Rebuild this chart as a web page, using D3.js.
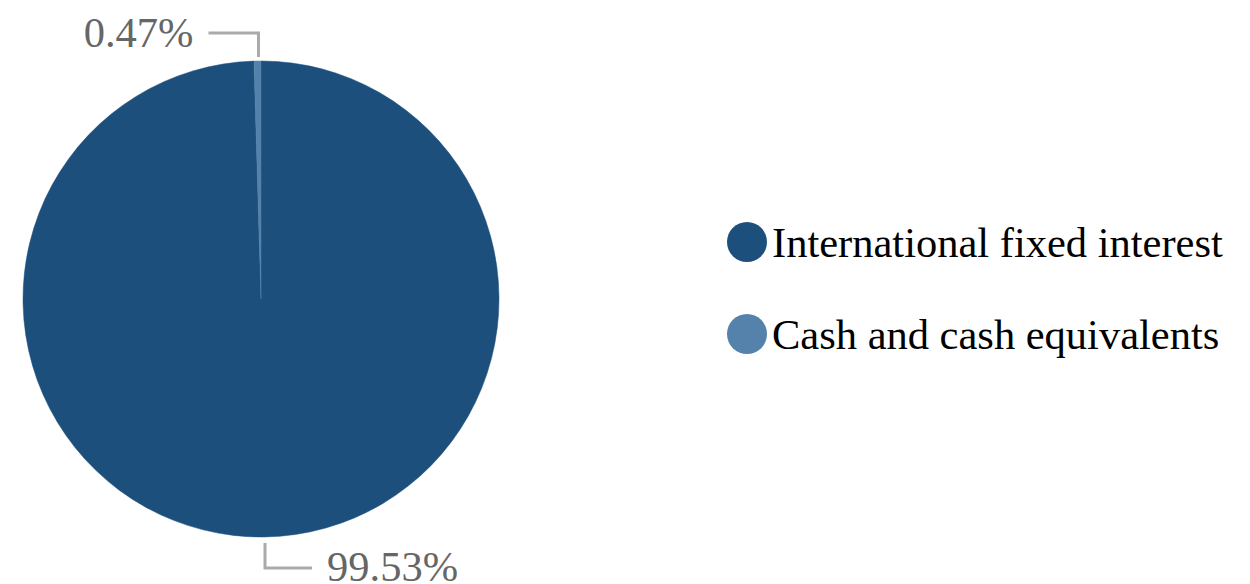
<!DOCTYPE html>
<html>
<head>
<meta charset="utf-8">
<script src="https://cdn.jsdelivr.net/npm/d3@7"></script>
<style>
  body { margin: 0; background: #fff; }
  svg text { font-family: "Liberation Serif", "Times New Roman", serif; }
</style>
</head>
<body>
<div id="chart"></div>
<script>
// data
const categories = ["International fixed interest", "Cash and cash equivalents"];
const values = [99.53, 0.47];
const labels = ["99.53%", "0.47%"];
const colors = ["#1c4f7c", "#5482ab"];

const width = 1250, height = 584;
const cx = 261, cy = 299, radius = 238;

const svg = d3.select("#chart").append("svg")
    .attr("width", width)
    .attr("height", height);

const pie = d3.pie().sort(null).value(d => d.value);
const arc = d3.arc().innerRadius(0).outerRadius(radius);

const data = categories.map((c, i) => ({ name: c, value: values[i], label: labels[i], color: colors[i] }));
const arcs = pie(data);

const g = svg.append("g").attr("transform", `translate(${cx},${cy})`);

g.selectAll("path.slice")
    .data(arcs)
    .enter().append("path")
    .attr("class", "slice")
    .attr("d", arc)
    .attr("fill", d => d.data.color)
    .attr("stroke", d => d.data.color)
    .attr("stroke-width", 0.5);

// leader lines + labels
const lineColor = "#aaaaaa";
const textColor = "#666666";
const fs = 42.5;

// small slice (top)
const small = arcs[1];
const sa = (small.startAngle + small.endAngle) / 2;
const sx = radius * Math.sin(sa) + 1, sy = -radius * Math.cos(sa);
g.append("polyline")
    .attr("points", [[sx, sy - 4], [sx, sy - 28], [sx - 50, sy - 28]].map(p => p.join(",")).join(" "))
    .attr("fill", "none")
    .attr("stroke", lineColor)
    .attr("stroke-width", 3);
g.append("text")
    .attr("x", sx - 65)
    .attr("y", sy - 14)
    .attr("text-anchor", "end")
    .attr("font-size", fs)
    .attr("fill", textColor)
    .text(small.data.label);

// big slice (bottom)
const big = arcs[0];
const bx = 4, by = radius;
g.append("polyline")
    .attr("points", [[bx, by + 6], [bx, by + 31], [bx + 47, by + 31]].map(p => p.join(",")).join(" "))
    .attr("fill", "none")
    .attr("stroke", lineColor)
    .attr("stroke-width", 3);
g.append("text")
    .attr("x", bx + 62)
    .attr("y", by + 44)
    .attr("font-size", fs)
    .attr("fill", textColor)
    .text(big.data.label);

// legend
const legend = svg.append("g").attr("transform", "translate(747,242)");
const item = legend.selectAll("g.item")
    .data(data)
    .enter().append("g")
    .attr("class", "item")
    .attr("transform", (d, i) => `translate(0,${i * 92})`);
item.append("circle")
    .attr("r", 20)
    .attr("fill", d => d.color);
item.append("text")
    .attr("x", 25)
    .attr("y", 15)
    .attr("font-size", fs)
    .attr("fill", "#000")
    .text(d => d.name);
</script>
</body>
</html>
